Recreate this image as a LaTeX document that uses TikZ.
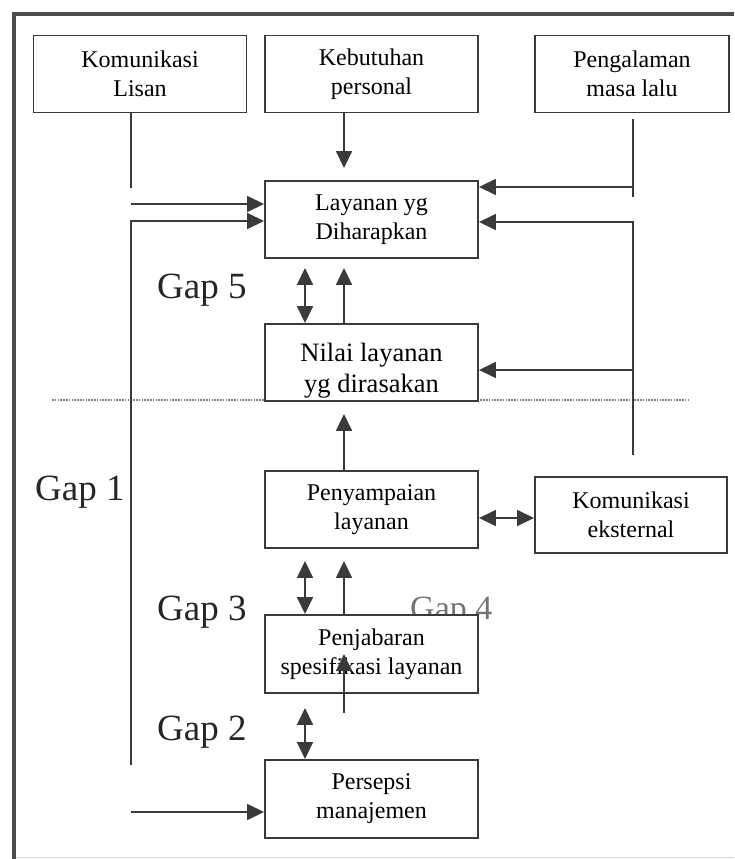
\documentclass[tikz,border=0pt]{standalone}
\usepackage{fontspec}
\setmainfont{Liberation Serif}
\usetikzlibrary{arrows.meta}
\definecolor{inkgray}{HTML}{3A3A3A}

\begin{document}
\begin{tikzpicture}[x=1pt, y=-1pt, >={Triangle[length=17pt, width=16pt]}]
\tikzstyle{box}=[shape=rectangle, draw=inkgray, line width=1.9pt, fill=white, minimum width=213pt, minimum height=77pt, inner sep=0pt, align=center, text=black, font=\fontsize{24}{29}\selectfont]
\tikzstyle{gap}=[anchor=base west, inner sep=0pt, text=black!85, font=\fontsize{37}{40}\selectfont]
\tikzstyle{link}=[draw=inkgray, line width=1.6pt]
\useasboundingbox (0, 0) rectangle (734, 859);
% frame and divider
\draw[line width=4pt, black!70] (14, 859) -- (14, 14) -- (734, 14);
\draw[line width=1pt, black!15] (16, 857) -- (734, 857);
\draw[black!50, line width=1.6pt, dash pattern=on 1.6pt off 1.2pt] (52, 400) -- (690, 400);
% boxes
\node[box] (KL) at (140, 74) {Komunikasi\\Lisan};
\node[box] (KP) at (371.5, 74) {Kebutuhan\\personal};
\node[box, minimum width=194pt] (PM) at (632, 74) {Pengalaman\\masa lalu};
\node[box] (LH) at (371.5, 219.5) {Layanan yg\\Diharapkan};
\node[box, font=\fontsize{26.5}{31}\selectfont, text height=65pt] (NL) at (371.5, 362.5) {Nilai layanan\\yg dirasakan};
\node[box] (PL) at (371.5, 509.5) {Penyampaian\\layanan};
\node[box, minimum width=192pt, minimum height=76pt] (KE) at (631, 515) {Komunikasi\\eksternal};
\node[gap, text=black!55, font=\fontsize{34}{38}\selectfont] (G4) at (410, 619) {Gap 4};
\node[box, minimum height=78pt] (SL) at (371.5, 654) {Penjabaran\\spesifikasi layanan};
\node[box, minimum height=78pt] (MP) at (371.5, 799) {Persepsi\\manajemen};
% gap labels
\node[gap] (G1) at (35, 500) {Gap 1};
\node[gap] (G2) at (157, 740) {Gap 2};
\node[gap] (G3) at (157, 620) {Gap 3};
\node[gap] (G5) at (157, 298) {Gap 5};
% free ends and columns
\coordinate (colA) at (305, 0);
\coordinate (colB) at (344, 0);
\coordinate (rowE) at (0, 518);
\coordinate (ka) at (131, 188);
\coordinate (kb) at (131, 204);
\coordinate (fa) at (131, 221);
\coordinate (fb) at (131, 765);
\coordinate (fc) at (131, 812);
\coordinate (pa) at (633, 197);
\coordinate (pb) at (633, 187);
\coordinate (ea) at (633, 222);
\coordinate (eb) at (633, 455);
\coordinate (ec) at (633, 370);
\coordinate (sa) at (344, 713);
% connectors
\draw[link] (KL.south -| ka) -- (ka);
\draw[link, ->] (kb) -- (kb -| LH.west);
\draw[link, ->] (fb) -- (fa) -- (fa -| LH.west);
\draw[link, ->] (fc) -- (fc -| MP.west);
\draw[link, ->, shorten >=12pt] (KP.south -| colB) -- (LH.north -| colB);
\draw[link, shorten <=6pt] (PM.south -| pa) -- (pa);
\draw[link, ->] (pb) -- (pb -| LH.east);
\draw[link, ->] (eb) -- (ea) -- (ea -| LH.east);
\draw[link, ->] (ec) -- (ec -| NL.east);
\draw[link, <->, shorten <=9pt] (LH.south -| colA) -- (NL.north -| colA);
\draw[link, ->, shorten >=9pt] (NL.north -| colB) -- (LH.south -| colB);
\draw[link, ->, shorten >=12pt] (PL.north -| colB) -- (NL.south -| colB);
\draw[link, <->] (PL.east |- rowE) -- (KE.west |- rowE);
\draw[link, <->, shorten <=12pt] (PL.south -| colA) -- (SL.north -| colA);
\draw[link, ->, shorten >=12pt] (SL.north -| colB) -- (PL.south -| colB);
\draw[link, <->, shorten <=14pt] (SL.south -| colA) -- (MP.north -| colA);
\draw[link, ->] (sa) -- (SL.center -| colB);
\end{tikzpicture}
\end{document}
